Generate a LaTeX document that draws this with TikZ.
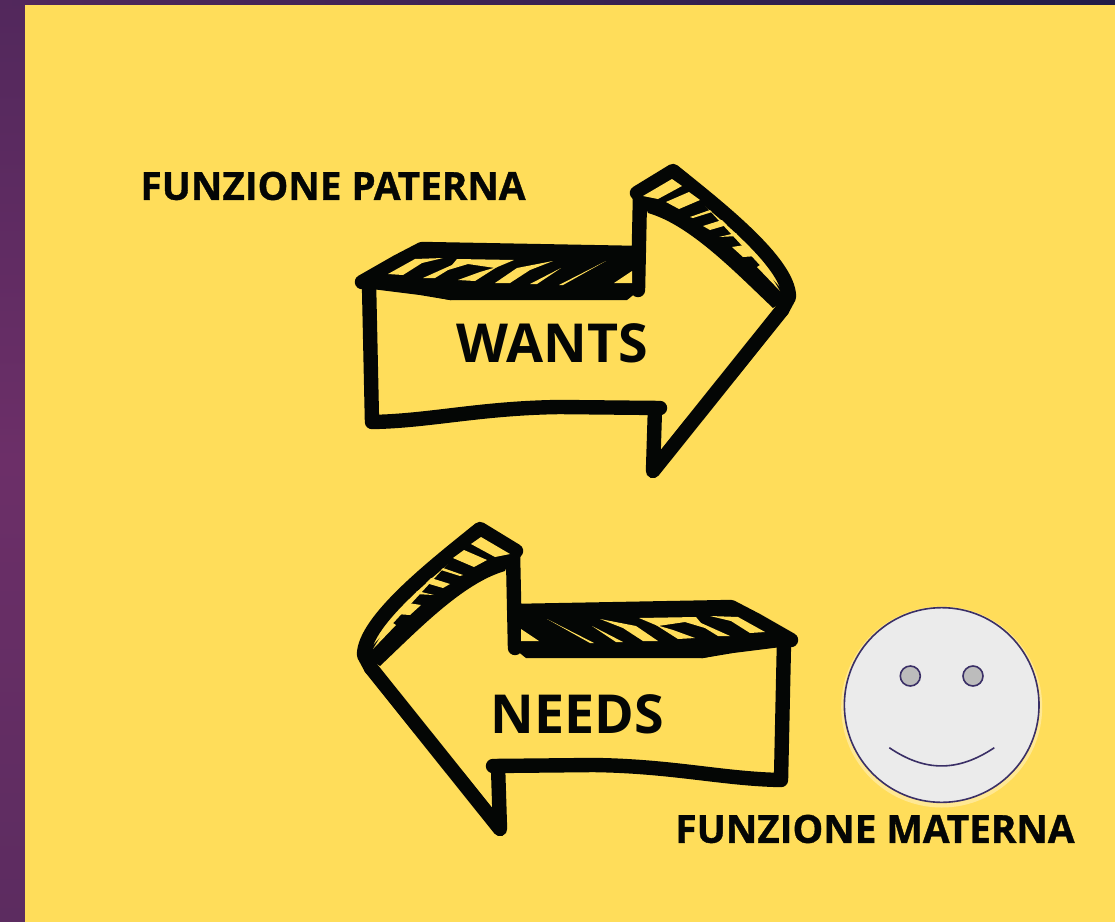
\documentclass[tikz,border=0pt]{standalone}
\usepackage{fontspec}
\setmainfont{Open Sans}
\newfontfamily\heavyfont[FakeBold=0.9]{Open Sans Bold}
\definecolor{paper}{HTML}{FFDD5A}
\definecolor{ink}{HTML}{040605}
\definecolor{facering}{HTML}{3A2F66}
\definecolor{facefill}{HTML}{EBEBEB}
\definecolor{eyefill}{HTML}{BCBCBC}
\tikzset{
    sketch/.style={draw=ink,line width=10.8pt,line cap=round,line join=round},
    sliver/.style={fill=paper},
    bigword/.style={inner sep=0pt,text=ink,font=\fontsize{40.3}{42}\selectfont\bfseries},
    caption/.style={inner sep=0pt,text=ink,font=\fontsize{29}{31}\selectfont\heavyfont},
    facepart/.style={circle,draw=facering,line width=1.2pt,inner sep=0pt},
}
\newcommand{\sketcharrow}{
    % body and head
    \draw[sketch] (369,284) -- (372,422) .. controls (430,421) and (480,408) .. (560,407) -- (660,408);
    \draw[sketch] (655,408) -- (653,471) -- (782,310);
    \draw[sketch] (640,196) -- (638,290);
    % top band
    \fill[ink] (362,283) -- (422,248) -- (640,252) -- (642,288) -- (627,300) -- (450,300) -- (420,294) -- (372,288) -- cycle;
    \draw[sketch] (362,282) -- (397,262) -- (422,249) -- (638,253);
    \draw[line width=6pt,draw=ink,line cap=round] (372,285) -- (420,291) -- (450,296) -- (627,295);
    % head band
    \fill[ink] (640,192) -- (673,171) -- (789,297) -- (773,308) .. controls (735,272) and (690,225) .. (648,213) -- cycle;
    \draw[sketch] (637,193) -- (673,171) .. controls (715,205) and (789,262) .. (789,297) -- (782,310);
    % hatching of the top band
    \fill[sliver] (388,274) -- (415,259) -- (443,258) -- (422,263) -- (403,275) -- cycle;
    \fill[sliver] (423,278) -- (452,265) -- (457,259) -- (514,260) -- (495,268) -- (468,264) -- (448,270) -- (435,278) -- cycle;
    \fill[sliver] (458,280) -- (480,272) -- (497,267) -- (475,281) -- cycle;
    \fill[sliver] (495,283) -- (517,268) -- (553,261) -- (530,270) -- (510,283) -- cycle;
    \fill[sliver] (530,284) -- (561,268) -- (537,284) -- cycle;
    \fill[sliver] (559,285) -- (606,261) -- (563,285) -- cycle;
    \fill[sliver] (614,283) -- (632,271) -- (632,283) -- cycle;
    % hatching of the head
    \fill[sliver] (643,196) -- (672,179) -- (682,186) -- (658,199) -- cycle;
    \fill[sliver] (666,202) -- (689,192) -- (700,200) -- (679,209) -- cycle;
    \fill[sliver] (690,217) -- (710,210) -- (712,212) -- (693,218) -- cycle;
    \fill[sliver] (703,226) -- (722,220) -- (727,225) -- (710,230) -- cycle;
    \fill[sliver] (719,237) -- (736,233) -- (738,236) -- cycle;
    \fill[sliver] (732,247) -- (745,245) -- (750,250) -- (757,256) -- (743,257) -- cycle;
    \fill[sliver] (757,267) -- (763,263) -- (780,291) -- cycle;
}
\begin{document}
\begin{tikzpicture}[x=0.75pt,y=-0.75pt]
    \useasboundingbox (0,0) rectangle (1115,922);
    % frame
    \shade[top color={rgb,255:red,82;green,40;blue,92},bottom color={rgb,255:red,92;green,44;blue,96},middle color={rgb,255:red,108;green,47;blue,104}] (0,0) rectangle (25,922);
    \shade[left color={rgb,255:red,82;green,40;blue,92},right color={rgb,255:red,34;green,28;blue,72}] (0,0) rectangle (1115,5);
    \fill[paper] (25,5) rectangle (1115,922);

    \sketcharrow
    \begin{scope}[shift={(1153,358)},xscale=-1]
        \sketcharrow
    \end{scope}

    \node[bigword] (wants) at (552.5,343) {WANTS};
    \node[bigword] (needs) at (577,714) {NEEDS};
    \node[caption] (paterna) at (333,186) {FUNZIONE PATERNA};
    \node[caption] (materna) at (875,829) {FUNZIONE MATERNA};

    % face
    \fill[white,opacity=0.35] (941.7,707) circle (100.5);
    \node[facepart,fill=facefill,minimum size=146pt] (face) at (941.7,705) {};
    \node[facepart,fill=eyefill,minimum size=15pt] (lefteye) at (910.3,676) {};
    \node[facepart,fill=eyefill,minimum size=15pt] (righteye) at (973,676) {};
    \coordinate (smileleft) at (889.3,747.7);
    \coordinate (smileright) at (994.3,747.7);
    \draw[facering,line width=1.2pt] (smileleft) .. controls (925,772) and (958,772) .. (smileright);
\end{tikzpicture}
\end{document}
